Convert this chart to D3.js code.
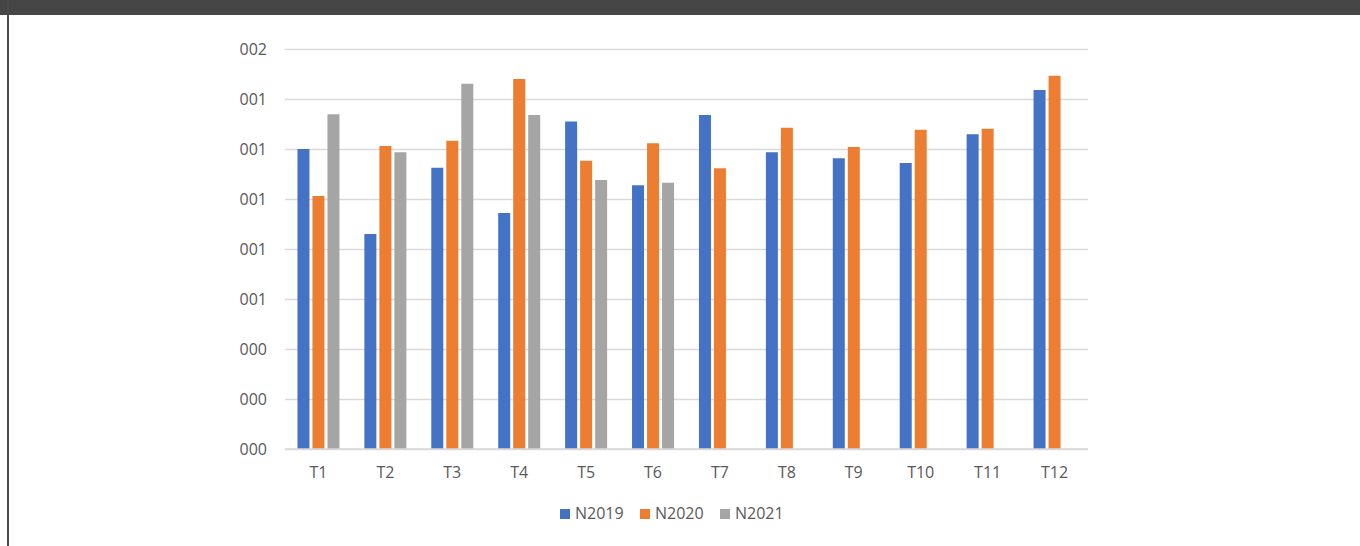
<!DOCTYPE html>
<html>
<head>
<meta charset="utf-8">
<script src="https://cdn.jsdelivr.net/npm/d3@7"></script>
<style>
  html, body { margin: 0; padding: 0; background: #ffffff; }
  svg { display: block; }
  text { font-family: "Open Sans", "Liberation Sans", sans-serif; fill: #595959; }
</style>
</head>
<body>
<svg id="chart" width="1360" height="546"></svg>
<script>
// Monthly values per year
const categories = ["T1","T2","T3","T4","T5","T6","T7","T8","T9","T10","T11","T12"];
const seriesNames = ["N2019","N2020","N2021"];
const n2019 = [1.20, 0.86, 1.125, 0.944, 1.31, 1.055, 1.336, 1.187, 1.163, 1.144, 1.259, 1.436];
const n2020 = [1.012, 1.212, 1.233, 1.48, 1.153, 1.223, 1.123, 1.285, 1.208, 1.277, 1.281, 1.493];
const n2021 = [1.339, 1.187, 1.461, 1.336, 1.076, 1.065, null, null, null, null, null, null];
const seriesColors = ["#4472C4", "#ED7D31", "#A5A5A5"];
const tickValues = [0, 0.2, 0.4, 0.6, 0.8, 1.0, 1.2, 1.4, 1.6];
const tickLabels = ["000","000","000","001","001","001","001","001","002"];

const seriesValues = [n2019, n2020, n2021];

const svg = d3.select("#chart");

// Window frame: dark header strip and left edge
svg.append("rect").attr("x", 0).attr("y", 0).attr("width", 1360).attr("height", 15).attr("fill", "#464646");
svg.append("rect").attr("x", 7).attr("y", 0).attr("width", 2).attr("height", 546).attr("fill", "#4a4a4a");

const plotLeft = 285, plotRight = 1088, plotTop = 49, plotBottom = 449;

const y = d3.scaleLinear().domain([0, 1.6]).range([plotBottom, plotTop]);
const x0 = d3.scaleBand().domain(categories).range([plotLeft, plotRight]).padding(0);
const groupHalf = 21;
const x1 = d3.scaleBand().domain(seriesNames)
  .range([x0.bandwidth() / 2 - groupHalf, x0.bandwidth() / 2 + groupHalf])
  .paddingInner(0.2).paddingOuter(0);

// Gridlines and value labels
const yAxis = d3.axisLeft(y)
  .tickValues(tickValues)
  .tickSize(-(plotRight - plotLeft))
  .tickPadding(18)
  .tickFormat((d, i) => tickLabels[i]);

const gy = svg.append("g").attr("transform", `translate(${plotLeft},0)`).call(yAxis);
gy.select(".domain").remove();
gy.selectAll(".tick line").attr("stroke", "#d9d9d9").attr("stroke-width", 1.3);
gy.selectAll(".tick text")
  .attr("font-size", "16px")
  .attr("fill", "#595959")
  .attr("dy", "0.36em");

// Bars
const groups = svg.append("g").selectAll("g")
  .data(categories)
  .join("g")
  .attr("transform", d => `translate(${x0(d)},0)`);

groups.selectAll("rect")
  .data((c, i) => seriesNames.map((s, k) => ({ s, k, v: seriesValues[k][i] })).filter(d => d.v != null))
  .join("rect")
  .attr("x", d => x1(d.s))
  .attr("width", x1.bandwidth())
  .attr("y", d => y(d.v))
  .attr("height", d => y(0) - y(d.v))
  .attr("fill", d => seriesColors[d.k]);

// Baseline
svg.append("line")
  .attr("x1", plotLeft).attr("x2", plotRight)
  .attr("y1", y(0)).attr("y2", y(0))
  .attr("stroke", "#d9d9d9").attr("stroke-width", 1.3);

// Category labels
const xAxis = d3.axisBottom(x0).tickSize(0).tickPadding(18);
const gx = svg.append("g").attr("transform", `translate(0,${plotBottom})`).call(xAxis);
gx.select(".domain").remove();
gx.selectAll(".tick text").attr("font-size", "16px").attr("fill", "#595959");

// Legend
const legend = svg.append("g").attr("transform", "translate(560,509)");
const items = legend.selectAll("g").data(seriesNames).join("g")
  .attr("transform", (d, i) => `translate(${i * 80},0)`);
items.append("rect").attr("width", 10).attr("height", 10).attr("fill", (d, i) => seriesColors[i]);
items.append("text").attr("x", 15).attr("y", 10).attr("font-size", "16px").text(d => d);
</script>
</body>
</html>
